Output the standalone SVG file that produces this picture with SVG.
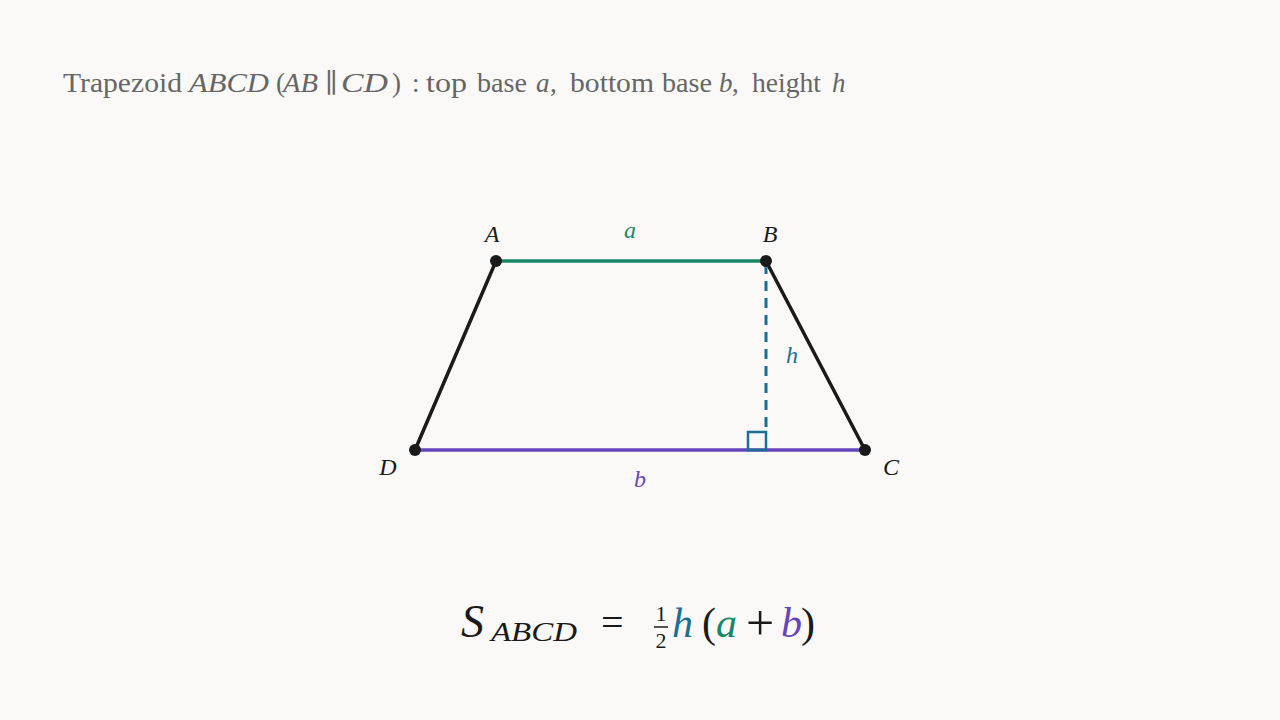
<svg xmlns="http://www.w3.org/2000/svg" width="1280" height="720" viewBox="0 0 1280 720">
<style>
.t{font-family:"Liberation Serif","DejaVu Serif",serif;}
.i{font-style:italic;}
.ttl{font-family:"Liberation Serif","DejaVu Serif",serif;font-size:27px;fill:#666;}
.lbl{font-family:"Liberation Serif","DejaVu Serif",serif;font-style:italic;font-size:24px;text-anchor:middle;}
.edge{stroke:#1a1a1a;stroke-width:3.5;fill:none;stroke-linecap:round;}
.pt{fill:#1a1a1a;}
</style>
<rect width="1280" height="720" fill="#faf9f7"/>
<g id="title">
<text class="ttl" x="63" y="92" textLength="119" lengthAdjust="spacingAndGlyphs">Trapezoid</text>
<text class="ttl i" x="189" y="92" textLength="80" lengthAdjust="spacingAndGlyphs">ABCD</text>
<text class="ttl" x="276" y="92">(</text>
<text class="ttl i" x="283" y="92" textLength="35" lengthAdjust="spacingAndGlyphs">AB</text>
<text class="ttl" x="325" y="92">∥</text>
<text class="ttl i" x="341" y="92" textLength="47" lengthAdjust="spacingAndGlyphs">CD</text>
<text class="ttl" x="392" y="92">)</text>
<text class="ttl" x="412" y="92">:</text>
<text class="ttl" x="426" y="92" textLength="41" lengthAdjust="spacingAndGlyphs">top</text>
<text class="ttl" x="477" y="92" textLength="50" lengthAdjust="spacingAndGlyphs">base</text>
<text class="ttl i" x="536" y="92">a</text>
<text class="ttl" x="550" y="92">,</text>
<text class="ttl" x="570" y="92" textLength="84" lengthAdjust="spacingAndGlyphs">bottom</text>
<text class="ttl" x="662" y="92" textLength="50" lengthAdjust="spacingAndGlyphs">base</text>
<text class="ttl i" x="719" y="92">b</text>
<text class="ttl" x="732" y="92">,</text>
<text class="ttl" x="752" y="92" textLength="69" lengthAdjust="spacingAndGlyphs">height</text>
<text class="ttl i" x="832" y="92">h</text>
</g>
<g id="connectors">
<line class="edge" x1="496" y1="261" x2="415" y2="450"/>
<line class="edge" x1="766" y1="261" x2="865" y2="450"/>
<line x1="496" y1="261" x2="766" y2="261" stroke="#17876a" stroke-width="3.5"/>
<line x1="415" y1="450" x2="865" y2="450" stroke="#6644bb" stroke-width="3.5"/>
<line x1="766" y1="264" x2="766" y2="432" stroke="#1a6f94" stroke-width="3" stroke-dasharray="10 7"/>
<rect x="748" y="432" width="18" height="18" fill="none" stroke="#1a6f94" stroke-width="2.5"/>
</g>
<g id="A"><circle class="pt" cx="496" cy="261" r="6"/><text class="lbl" x="492" y="242" fill="#1a1a1a">A</text></g>
<g id="B"><circle class="pt" cx="766" cy="261" r="6"/><text class="lbl" x="770" y="242" fill="#1a1a1a">B</text></g>
<g id="C"><circle class="pt" cx="865" cy="450" r="6"/><text class="lbl" x="891" y="475" fill="#1a1a1a">C</text></g>
<g id="D"><circle class="pt" cx="415" cy="450" r="6"/><text class="lbl" x="388" y="475" fill="#1a1a1a">D</text></g>
<text class="lbl" x="630" y="238" fill="#17876a">a</text>
<text class="lbl" x="792" y="363" fill="#1a6f94">h</text>
<text class="lbl" x="640" y="487" fill="#6644bb">b</text>
<g id="formula" class="t" fill="#1a1a1a">
<text x="461" y="637" font-size="46" class="i">S</text>
<text x="491" y="641" font-size="28" class="i" textLength="86" lengthAdjust="spacingAndGlyphs">ABCD</text>
<text x="601" y="636" font-size="40">=</text>
<text x="661" y="621" font-size="22" text-anchor="middle">1</text>
<line x1="654" y1="627" x2="668" y2="627" stroke="#1a1a1a" stroke-width="1.5"/>
<text x="661" y="648" font-size="22" text-anchor="middle">2</text>
<text x="672" y="637" font-size="42" class="i" fill="#1a6f94">h</text>
<text x="702" y="637" font-size="42">(</text>
<text x="716" y="637" font-size="42" class="i" fill="#17876a">a</text>
<text x="746" y="640" font-size="50">+</text>
<text x="781" y="637" font-size="42" class="i" fill="#6644bb">b</text>
<text x="801" y="637" font-size="42">)</text>
</g>
</svg>
